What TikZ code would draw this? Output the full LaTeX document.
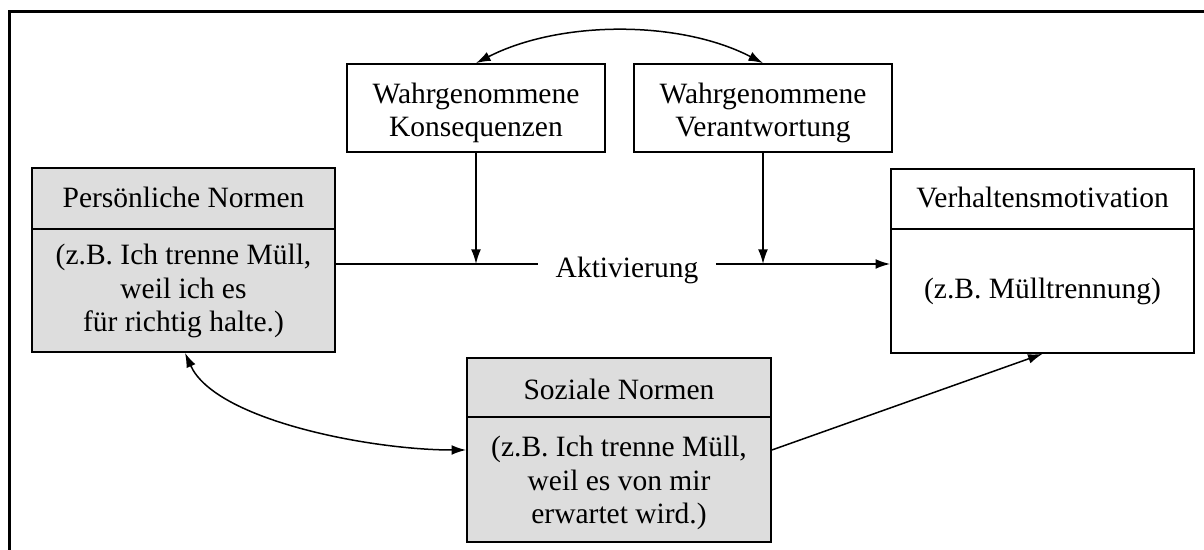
\documentclass[tikz,border=0pt]{standalone}
\usepackage{fontspec}
\setmainfont{Liberation Serif}
\usetikzlibrary{fit,arrows.meta}
\definecolor{normgray}{RGB}{221,221,221}
\tikzset{
  framebox/.style={draw, line width=0.7pt, inner sep=0pt},
  shaded/.style={framebox, fill=normgray},
  txt/.style={inner sep=0pt, align=center},
  rule/.style={line width=0.65pt},
  tip/.style={Latex[length=5.8pt,width=3.9pt]},
  link/.style={line width=0.6pt, -{Latex[length=5.8pt,width=3.9pt]}},
  twoway/.style={line width=0.6pt, {Latex[length=5.8pt,width=3.9pt]}-{Latex[length=5.8pt,width=3.9pt]}},
}
\begin{document}
\begin{tikzpicture}[x=0.4pt,y=-0.4pt, font=\fontsize{11.8pt}{13.4pt}\selectfont]
\useasboundingbox (0,0) rectangle (1204,550);
\clip (0,0) rectangle (1204,550);

% outer frame, open to the right and bottom
\draw[line width=0.85pt] (9.5,600) -- (9.5,11.5) -- (1260,11.5);

% boxes
\node[shaded, fit={(32,168) (335,352)}] (pn) {};
\node[framebox, fill=white, fit={(891,169) (1194,353)}] (vm) {};
\node[shaded, fit={(467,358) (771,542)}] (sn) {};
\node[framebox, fit={(347,64) (605,152)}] (wk) {};
\node[framebox, fit={(634,64) (892,152)}] (wv) {};

% header dividers
\draw[rule] (pn.west |- 0,229) -- (pn.east |- 0,229);
\draw[rule] (vm.west |- 0,229) -- (vm.east |- 0,229);
\draw[rule] (sn.west |- 0,417) -- (sn.east |- 0,417);

% texts
\node[txt, anchor=base] (pnt) at (183.5,208) {Persönliche Normen};
\node[txt] (pnb) at (183.5,291) {(z.B. Ich trenne Müll,\\weil ich es\\für richtig halte.)};
\node[txt, anchor=base] (vmt) at (1042.5,208) {Verhaltensmotivation};
\node[txt] (vmb) at (1042.5,291) {(z.B. Mülltrennung)};
\node[txt, anchor=base] (snt) at (619,400) {Soziale Normen};
\node[txt] (snb) at (619,483) {(z.B. Ich trenne Müll,\\weil es von mir\\erwartet wird.)};
\node[txt] (wkt) at (476,113) {Wahrgenommene\\Konsequenzen};
\node[txt] (wvt) at (763,113) {Wahrgenommene\\Verantwortung};

% activation path
\node[txt, inner xsep=6.8pt] (akt) at (627,270) {Aktivierung};
\coordinate (ls) at (pn.east |- 0,264);
\coordinate (le) at (vm.west |- 0,264);
\draw[rule] (ls) -- (akt.west |- ls);
\draw[link] (akt.east |- ls) -- (le);
\draw[link] (wk.south) -- (wk.south |- ls);
\draw[link] (wv.south) -- (wv.south |- ls);

% mutual influences
\draw[twoway] (wk.north) .. controls (560,20) and (680,20) .. (wv.north);
\draw[twoway] (pn.south -| 185,0) .. controls (215,420) and (370,450) .. (sn.west);

% social norms to motivation
\draw[link] (sn.east) -- (vm.south);
\end{tikzpicture}
\end{document}
